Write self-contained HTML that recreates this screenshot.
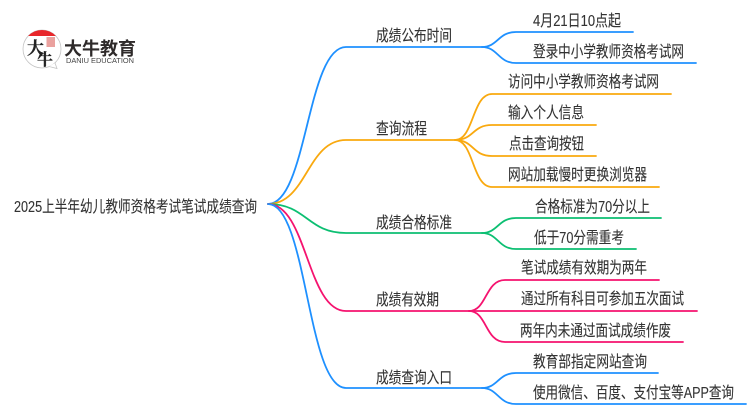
<!DOCTYPE html>
<html lang="zh"><head><meta charset="utf-8"><title>2025上半年幼儿教师资格考试笔试成绩查询</title>
<style>
html,body{margin:0;padding:0;background:#fff;width:750px;height:410px;overflow:hidden}
svg{display:block}
text{font-family:"Liberation Sans","Noto Sans CJK SC",sans-serif;font-size:16px;fill:#333;stroke:#333;stroke-width:.12}
.l{fill:none;stroke-width:1.8;stroke-linecap:round}
.b{stroke:#1e90ff}.o{stroke:#f9a90f}.g{stroke:#0cbf72}.p{stroke:#f5136f}
</style></head><body>
<svg width="750" height="410" viewBox="0 0 750 410" xmlns="http://www.w3.org/2000/svg">
<!-- Logo -->
<circle cx="42" cy="49" r="19" fill="#fff" stroke="#c4c4c4" stroke-width="0.8"/>
<path d="M28.100 36 A19 19 0 0 1 55.900 36 Z" fill="#e8262a"/>
<path d="M49 66.500 L57 68.500 L55 63" fill="#fff" stroke="#c4c4c4" stroke-width="0.8"/>
<text x="27" y="54" textLength="17" lengthAdjust="spacingAndGlyphs" style="font-size:17px;font-weight:bold;fill:#222;stroke:#222;stroke-width:.3;font-family:'Noto Serif CJK SC',serif">大</text>
<text x="37" y="65" textLength="16" lengthAdjust="spacingAndGlyphs" style="font-size:16px;font-weight:bold;fill:#222;stroke:#222;stroke-width:.3;font-family:'Noto Serif CJK SC',serif">牛</text>
<rect x="46.500" y="37" width="8.500" height="10" fill="#d9534f" opacity=".55"/>
<text x="64" y="55" textLength="72" lengthAdjust="spacingAndGlyphs" style="font-size:18px;font-weight:bold;fill:#2e2a2a;stroke:none">大牛教育</text>
<text x="66" y="63" textLength="68" lengthAdjust="spacingAndGlyphs" style="font-size:7px;fill:#444;stroke:none">DANIU EDUCATION</text>

<!-- Root to branches -->
<path class="l b" d="M268 204C307 204 307 47 346 47H482"/>
<path class="l o" d="M268 204C307 204 307 140 346 140H455"/>
<path class="l g" d="M268 204C307 204 307 233 346 233H482"/>
<path class="l p" d="M268 204C307 204 307 311 346 311H469"/>
<path class="l b" d="M268 204C307 204 307 388 346 388H482"/>

<!-- Branch 1 -->
<path class="l b" d="M482 47C498 47 498 32 516 32H633"/>
<path class="l b" d="M482 47C498 47 498 63 516 63H696"/>
<!-- Branch 2 -->
<path class="l o" d="M455 140C474 140 472 94 492 94H671"/>
<path class="l o" d="M455 140C474 140 472 125 492 125H596"/>
<path class="l o" d="M455 140C474 140 472 156 492 156H596"/>
<path class="l o" d="M455 140C474 140 472 187 492 187H659"/>
<!-- Branch 3 -->
<path class="l g" d="M482 233C498 233 498 218 516 218H661"/>
<path class="l g" d="M482 233C498 233 498 249 516 249H636"/>
<!-- Branch 4 -->
<path class="l p" d="M469 311C487 311 485 280 505 280H659"/>
<path class="l p" d="M469 311H697"/>
<path class="l p" d="M469 311C487 311 485 342 505 342H683"/>
<!-- Branch 5 -->
<path class="l b" d="M482 388C498 388 498 373 516 373H658"/>
<path class="l b" d="M482 388C498 388 498 404 516 404H746"/>

<!-- Labels -->
<text x="14" y="212" textLength="243" lengthAdjust="spacingAndGlyphs">2025上半年幼儿教师资格考试笔试成绩查询</text>

<text x="376" y="41" textLength="76" lengthAdjust="spacingAndGlyphs">成绩公布时间</text>
<text x="376" y="134" textLength="51" lengthAdjust="spacingAndGlyphs">查询流程</text>
<text x="376" y="228" textLength="76" lengthAdjust="spacingAndGlyphs">成绩合格标准</text>
<text x="376" y="305" textLength="63" lengthAdjust="spacingAndGlyphs">成绩有效期</text>
<text x="376" y="383" textLength="76" lengthAdjust="spacingAndGlyphs">成绩查询入口</text>

<text x="533" y="26" textLength="88" lengthAdjust="spacingAndGlyphs">4月21日10点起</text>
<text x="533" y="57" textLength="151" lengthAdjust="spacingAndGlyphs">登录中小学教师资格考试网</text>

<text x="508" y="87" textLength="151" lengthAdjust="spacingAndGlyphs">访问中小学教师资格考试网</text>
<text x="508" y="118" textLength="76" lengthAdjust="spacingAndGlyphs">输入个人信息</text>
<text x="509" y="149" textLength="75" lengthAdjust="spacingAndGlyphs">点击查询按钮</text>
<text x="508" y="180" textLength="139" lengthAdjust="spacingAndGlyphs">网站加载慢时更换浏览器</text>

<text x="535" y="212" textLength="115" lengthAdjust="spacingAndGlyphs">合格标准为70分以上</text>
<text x="534" y="243" textLength="90" lengthAdjust="spacingAndGlyphs">低于70分需重考</text>

<text x="521" y="273" textLength="126" lengthAdjust="spacingAndGlyphs">笔试成绩有效期为两年</text>
<text x="521" y="304" textLength="163" lengthAdjust="spacingAndGlyphs">通过所有科目可参加五次面试</text>
<text x="520" y="336" textLength="151" lengthAdjust="spacingAndGlyphs">两年内未通过面试成绩作废</text>

<text x="533" y="367" textLength="114" lengthAdjust="spacingAndGlyphs">教育部指定网站查询</text>
<text x="533" y="398" textLength="201" lengthAdjust="spacingAndGlyphs">使用微信、百度、支付宝等APP查询</text>
</svg>
</body></html>
